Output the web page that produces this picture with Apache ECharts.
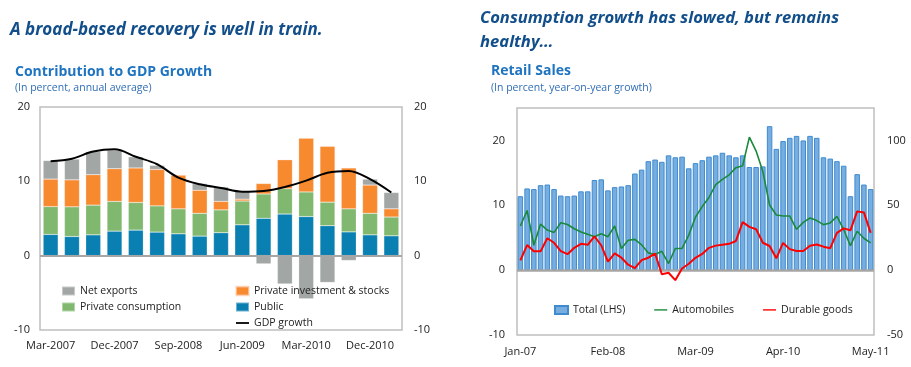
<!DOCTYPE html>
<html><head><meta charset="utf-8">
<script src="https://cdn.jsdelivr.net/npm/echarts@6/dist/echarts.min.js"></script>
<style>html,body{margin:0;padding:0;background:#fff}#c{width:911px;height:367px}</style>
</head><body><div id="c"></div>
<script>
// ---- Left chart: Contribution to GDP Growth ----
const quarters = ['Mar-2007','Jun-2007','Sep-2007','Dec-2007','Mar-2008','Jun-2008','Sep-2008','Dec-2008','Mar-2009','Jun-2009','Sep-2009','Dec-2009','Mar-2010','Jun-2010','Sep-2010','Dec-2010','Mar-2011'];
const publicC      = [2.86, 2.58, 2.8, 3.3, 3.44, 3.17, 2.94, 2.63, 3.08, 4.15, 5.03, 5.6, 5.26, 4.03, 3.2, 2.8, 2.67];
const privateCons  = [3.74, 3.99, 4.0, 4.0, 3.72, 3.53, 3.36, 3.07, 3.08, 3.2, 3.27, 3.4, 3.31, 3.17, 3.1, 2.9, 2.53];
const privateInv   = [3.7, 3.63, 4.1, 4.4, 4.64, 4.9, 4.53, 3.1, 1.14, 0.25, 1.4, 3.9, 7.23, 7.5, 5.5, 3.8, 1.1];
const netExports   = [2.5, 2.8, 3.1, 2.5, 1.5, 0.55, -0.15, 0.9, 1.95, 1.05, -1.1, -3.8, -5.8, -3.6, -0.65, 0.8, 2.2];
const gdpGrowth    = [12.7, 13.05, 14.0, 14.3, 13.3, 12.3, 10.5, 9.6, 9.1, 8.6, 8.7, 9.25, 10.1, 11.15, 11.4, 10.3, 8.5];

// ---- Right chart: Retail Sales ----
const months = ['Jan-07','Feb-07','Mar-07','Apr-07','May-07','Jun-07','Jul-07','Aug-07','Sep-07','Oct-07','Nov-07','Dec-07',
  'Jan-08','Feb-08','Mar-08','Apr-08','May-08','Jun-08','Jul-08','Aug-08','Sep-08','Oct-08','Nov-08','Dec-08',
  'Jan-09','Feb-09','Mar-09','Apr-09','May-09','Jun-09','Jul-09','Aug-09','Sep-09','Oct-09','Nov-09','Dec-09',
  'Jan-10','Feb-10','Mar-10','Apr-10','May-10','Jun-10','Jul-10','Aug-10','Sep-10','Oct-10','Nov-10','Dec-10',
  'Jan-11','Feb-11','Mar-11','Apr-11','May-11'];
const retailTotal = [11.4, 12.6, 12.5, 13.1, 13.2, 12.5, 11.5, 11.4, 11.5, 12.15, 12.15, 13.9,
  14.0, 12.3, 12.8, 12.9, 13.1, 14.9, 15.5, 16.8, 17.05, 16.7, 17.7, 17.4,
  17.5, 15.7, 16.5, 16.95, 17.5, 17.7, 18.1, 17.7, 17.4, 17.7, 15.9, 15.9,
  16.0, 22.2, 18.7, 19.9, 20.4, 20.7, 20.0, 20.7, 20.4, 17.4, 17.2, 16.8,
  16.1, 11.4, 14.8, 13.2, 12.5];
const automobiles = [34.0, 46, 19.2, 35.5, 30.9, 29.1, 36.5, 35.2, 31.9, 29.4, 27.6, 25.8,
  28.1, 25.8, 34, 16.6, 23, 23.7, 19.5, 13.3, 12, 14.5, 5.1, 16.7,
  16.7, 27, 41, 49, 56, 66, 70, 73.5, 79, 80.5, 102.5, 91.8,
  76, 50.2, 42.5, 41.7, 41.7, 31.5, 36.8, 40.2, 38.2, 35.1, 36.4, 41.4,
  31.3, 18.8, 30, 24.6, 21];
const durableGoods = [7.5, 19.3, 14.5, 14.5, 24.6, 21.1, 14.7, 12.3, 17.2, 20.3, 19.5, 26,
  19.2, 6.5, 12.9, 9.6, 4.2, 1.5, 7.7, 9.6, 12.8, -3.2, -2, -7.7,
  1.3, 4.9, 9.5, 12.5, 17.2, 18.9, 19.6, 20.3, 22.5, 37, 33.4, 31.5,
  21.1, 18.6, 9.1, 21, 16.2, 14.7, 14.7, 18.8, 19.8, 18.1, 16.9, 28.7,
  32.2, 30.7, 45.3, 44.5, 28.7];

const FONT = 'Open Sans';
const LBL = '#222';
const chart = echarts.init(document.getElementById('c'));

function txt(x, y, text, font, fill) {
  return {type: 'text', silent: true, style: {x: x, y: y, text: text, font: font, fill: fill, verticalAlign: 'middle', align: 'left'}};
}
const axisLbl = {color: LBL, fontSize: 11, fontFamily: FONT};
const legendText = {color: LBL, fontSize: 10.5, fontFamily: FONT, lineHeight: 12};
// thin horizontal bar inside a 13x9 box (moveTo points keep the full box)
const LINE_ICON = 'path://M0,0 M13,9 M0,3.6 L13,3.6 L13,5.4 L0,5.4 Z';
const LINE_ICON_R = 'path://M0,0 M13,8 M0,3.2 L13,3.2 L13,4.6 L0,4.6 Z';

const option = {
  animation: false,
  textStyle: {fontFamily: FONT},
  graphic: [
    txt(10, 30, 'A broad-based recovery is well in train.', 'italic bold 17px "Open Sans"', '#124E8A'),
    txt(480, 18, 'Consumption growth has slowed, but remains', 'italic bold 16.6px "Open Sans"', '#124E8A'),
    txt(480, 42, 'healthy…', 'italic bold 16.6px "Open Sans"', '#124E8A'),
    txt(15, 72, 'Contribution to GDP Growth', 'bold 14px "Open Sans"', '#1E74C0'),
    txt(15, 88, '(In percent, annual average)', '10.5px "Open Sans"', '#2F6DB5'),
    txt(491, 71, 'Retail Sales', 'bold 14px "Open Sans"', '#1E74C0'),
    txt(491, 88, '(In percent, year-on-year growth)', '10.5px "Open Sans"', '#2F6DB5')
  ],
  grid: [
    {left: 40, top: 107, width: 362, height: 223, show: true, borderColor: '#BFBFBF', borderWidth: 1.5},
    {left: 517, top: 108, width: 357, height: 227, show: true, borderColor: '#BFBFBF', borderWidth: 1.5}
  ],
  xAxis: [
    {gridIndex: 0, type: 'category', data: quarters, axisLine: {show: false}, axisTick: {show: false},
     axisLabel: Object.assign({interval: 2, margin: 10}, axisLbl)},
    {gridIndex: 1, type: 'category', data: months, axisLine: {show: false}, axisTick: {show: false},
     axisLabel: Object.assign({interval: 12, margin: 11}, axisLbl)}
  ],
  yAxis: [
    {gridIndex: 0, type: 'value', min: -10, max: 20, interval: 10, position: 'left',
     axisLine: {show: false}, axisTick: {show: false}, splitLine: {show: false},
     axisLabel: Object.assign({margin: 10}, axisLbl)},
    {gridIndex: 0, type: 'value', min: -10, max: 20, interval: 10, position: 'right',
     axisLine: {show: false}, axisTick: {show: false}, splitLine: {show: false},
     axisLabel: Object.assign({margin: 12}, axisLbl)},
    {gridIndex: 1, type: 'value', min: -10, max: 25, interval: 10, position: 'left',
     axisLine: {show: false}, axisTick: {show: false}, splitLine: {show: false},
     axisLabel: Object.assign({margin: 12, formatter: v => (v > 20 ? '' : v)}, axisLbl)},
    {gridIndex: 1, type: 'value', min: -50, max: 125, interval: 50, position: 'right',
     axisLine: {show: false}, axisTick: {show: false}, splitLine: {show: false},
     axisLabel: Object.assign({margin: 13, formatter: v => (v > 100 ? '' : v)}, axisLbl)}
  ],
  legend: [
    {left: 61, top: 285, orient: 'vertical', padding: 0, itemGap: 4, itemWidth: 13, itemHeight: 9, selectedMode: false,
     data: [{name: 'Net exports', icon: 'rect'}, {name: 'Private consumption', icon: 'rect'}], textStyle: legendText},
    {left: 235, top: 285, orient: 'vertical', padding: 0, itemGap: 4, itemWidth: 13, itemHeight: 9, selectedMode: false,
     data: [{name: 'Private investment & stocks', icon: 'rect'}, {name: 'Public', icon: 'rect'}, {name: 'GDP growth', icon: LINE_ICON}],
     textStyle: legendText},
    {left: 554, top: 304, orient: 'horizontal', padding: 0, itemGap: 29, itemWidth: 13, itemHeight: 8, selectedMode: false,
     data: [{name: 'Total (LHS)', icon: 'rect'}, {name: 'Automobiles', icon: LINE_ICON_R}, {name: 'Durable goods', icon: LINE_ICON_R}],
     textStyle: legendText}
  ],
  series: [
    {name: 'Public', type: 'bar', stack: 'gdp', xAxisIndex: 0, yAxisIndex: 0, barWidth: 15, data: publicC,
     itemStyle: {color: '#0A80B2', borderColor: 'rgba(255,255,255,0.4)', borderWidth: 0.5},
     markLine: {silent: true, symbol: 'none', label: {show: false}, lineStyle: {color: '#A6A6A6', width: 2, type: 'solid'}, data: [{yAxis: 0}]}},
    {name: 'Private consumption', type: 'bar', stack: 'gdp', xAxisIndex: 0, yAxisIndex: 0, barWidth: 15, data: privateCons,
     itemStyle: {color: '#80B86F', borderColor: 'rgba(255,255,255,0.4)', borderWidth: 0.5}},
    {name: 'Private investment & stocks', type: 'bar', stack: 'gdp', xAxisIndex: 0, yAxisIndex: 0, barWidth: 15, data: privateInv,
     itemStyle: {color: '#F7892F', borderColor: 'rgba(255,220,200,0.6)', borderWidth: 0.5}},
    {name: 'Net exports', type: 'bar', stack: 'gdp', xAxisIndex: 0, yAxisIndex: 0, barWidth: 15, data: netExports,
     itemStyle: {color: '#A2A7A6', borderColor: 'rgba(255,255,255,0.4)', borderWidth: 0.5}},
    {name: 'GDP growth', type: 'line', xAxisIndex: 0, yAxisIndex: 0, data: gdpGrowth, smooth: 0.35,
     symbol: 'none', lineStyle: {color: '#000', width: 2}, itemStyle: {color: '#000'}, z: 5},
    {name: 'Total (LHS)', type: 'bar', xAxisIndex: 1, yAxisIndex: 2, barWidth: 5.5, data: retailTotal,
     itemStyle: {color: '#77AEDF', borderColor: '#3E8BD0', borderWidth: 1},
     markLine: {silent: true, symbol: 'none', label: {show: false}, lineStyle: {color: '#A6A6A6', width: 2.5, type: 'solid'}, data: [{yAxis: 0}]}},
    {name: 'Automobiles', type: 'line', xAxisIndex: 1, yAxisIndex: 3, data: automobiles,
     symbol: 'none', lineStyle: {color: '#1A8A3A', width: 1.6}, itemStyle: {color: '#1A8A3A'}, z: 4},
    {name: 'Durable goods', type: 'line', xAxisIndex: 1, yAxisIndex: 3, data: durableGoods,
     symbol: 'none', lineStyle: {color: '#FF0000', width: 2}, itemStyle: {color: '#FF0000'}, z: 5}
  ]
};
chart.setOption(option);
</script>
</body></html>
